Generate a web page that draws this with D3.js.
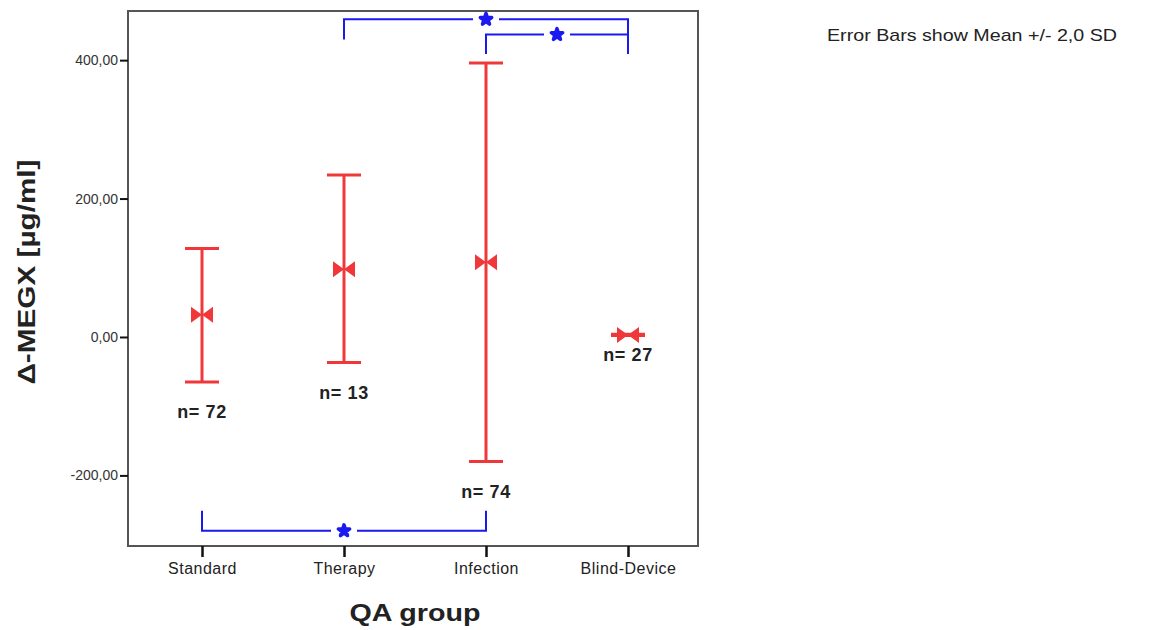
<!DOCTYPE html>
<html><head><meta charset="utf-8">
<script src="https://cdn.jsdelivr.net/npm/d3@7"></script>
<style>body{margin:0;background:#fff;}svg{display:block;font-family:"Liberation Sans",Arial,sans-serif;}</style>
</head><body>
<svg id="c" width="1160" height="630"></svg>
<script>
const categories = ["Standard","Therapy","Infection","Blind-Device"];
const means = [32, 98, 108, 3];
const upper = [128, 234, 396, 4];
const lower = [-65, -37, -180, 2];
const counts = [72, 13, 74, 27];
const yTicks = [-200, 0, 200, 400];
const brackets = [
  {from:"Therapy", to:"Blind-Device", level:459, legFrom:430, legTo:409},
  {from:"Infection", to:"Blind-Device", level:437, legFrom:409, legTo:409},
  {from:"Standard", to:"Infection", level:-280, legFrom:-251, legTo:-251}
];
const note = "Error Bars show  Mean +/- 2,0 SD";

const svg = d3.select("#c");
const frame = {l:128, r:698, t:11, b:546};
const y = d3.scaleLinear().domain([-302, 471]).range([frame.b, frame.t]);
const x = d3.scalePoint().domain(categories).range([202, 628]);
const red = "#f0383a", blue = "#1a1af0";

// frame
svg.append("rect").attr("x",frame.l).attr("y",frame.t).attr("width",frame.r-frame.l).attr("height",frame.b-frame.t)
  .attr("fill","none").attr("stroke","#555").attr("stroke-width",2);

// y axis
const ya = svg.append("g").attr("transform",`translate(${frame.l},0)`)
  .call(d3.axisLeft(y).tickValues(yTicks).tickSize(8).tickPadding(2).tickFormat(d=>d3.format(".2f")(d).replace(".",",").replace("−","-")));
ya.select(".domain").remove();
ya.selectAll(".tick line").attr("stroke","#111").attr("stroke-width",2);
ya.selectAll(".tick text").attr("font-size",14).attr("fill","#333").attr("font-family","Liberation Sans, Arial, sans-serif");

// x axis
const xa = svg.append("g").attr("transform",`translate(0,${frame.b})`)
  .call(d3.axisBottom(x).tickSize(11).tickPadding(6));
xa.select(".domain").remove();
xa.selectAll(".tick line").attr("stroke","#111").attr("stroke-width",2.5);
xa.selectAll(".tick text").attr("font-size",16).attr("letter-spacing","0.5").attr("fill","#222").attr("font-family","Liberation Sans, Arial, sans-serif");

// titles
svg.append("text").attr("transform",`translate(35,${y(0)-65}) rotate(-90)`).attr("text-anchor","middle")
  .attr("font-size",24).attr("font-weight","bold").attr("fill","#222")
  .attr("textLength",225).attr("lengthAdjust","spacingAndGlyphs").text("Δ-MEGX [µg/ml]");
svg.append("text").attr("x",415).attr("y",621).attr("text-anchor","middle")
  .attr("font-size",24).attr("font-weight","bold").attr("fill","#222")
  .attr("textLength",131).attr("lengthAdjust","spacingAndGlyphs").text("QA group");
svg.append("text").attr("x",827).attr("y",41).attr("font-size",17).attr("fill","#222")
  .attr("textLength",290).attr("lengthAdjust","spacingAndGlyphs").text(note);

// error bars
const data = categories.map((c,i)=>({c, m:means[i], hi:upper[i], lo:lower[i], n:counts[i]}));
const g = svg.append("g");
const capW = 17;
data.forEach(d=>{
  const cx = x(d.c);
  g.append("line").attr("x1",cx).attr("x2",cx).attr("y1",y(d.hi)).attr("y2",y(d.lo)).attr("stroke",red).attr("stroke-width",3);
  [d.hi,d.lo].forEach(v=>g.append("line").attr("x1",cx-capW).attr("x2",cx+capW).attr("y1",y(v)).attr("y2",y(v)).attr("stroke",red).attr("stroke-width",3));
  const my = y(d.m), w=11, h=8;
  g.append("path").attr("d",`M${cx-w},${my-h}L${cx},${my}L${cx-w},${my+h}Z M${cx+w},${my-h}L${cx},${my}L${cx+w},${my+h}Z`).attr("fill",red);
  g.append("text").attr("x",cx).attr("y",y(d.lo)+ (d.hi-d.lo<10?25:36)).attr("text-anchor","middle")
    .attr("font-size",18).attr("letter-spacing","0.6").attr("font-weight","bold").attr("fill","#222").text("n= "+d.n);
});

// significance brackets
const star = d3.symbol().type(d3.symbolStar).size(40);
brackets.forEach(b=>{
  const x1=x(b.from), x2=x(b.to), ly=y(b.level), mid=(x1+x2)/2, gap=13;
  const p = `M${x1},${y(b.legFrom)}V${ly}H${mid-gap} M${mid+gap},${ly}H${x2}V${y(b.legTo)}`;
  svg.append("path").attr("d",p).attr("fill","none").attr("stroke",blue).attr("stroke-width",2);
  svg.append("path").attr("d",star()).attr("transform",`translate(${mid},${ly})`).attr("fill",blue).attr("stroke",blue).attr("stroke-width",3.5).attr("stroke-linejoin","round");
});
</script>
</body></html>
